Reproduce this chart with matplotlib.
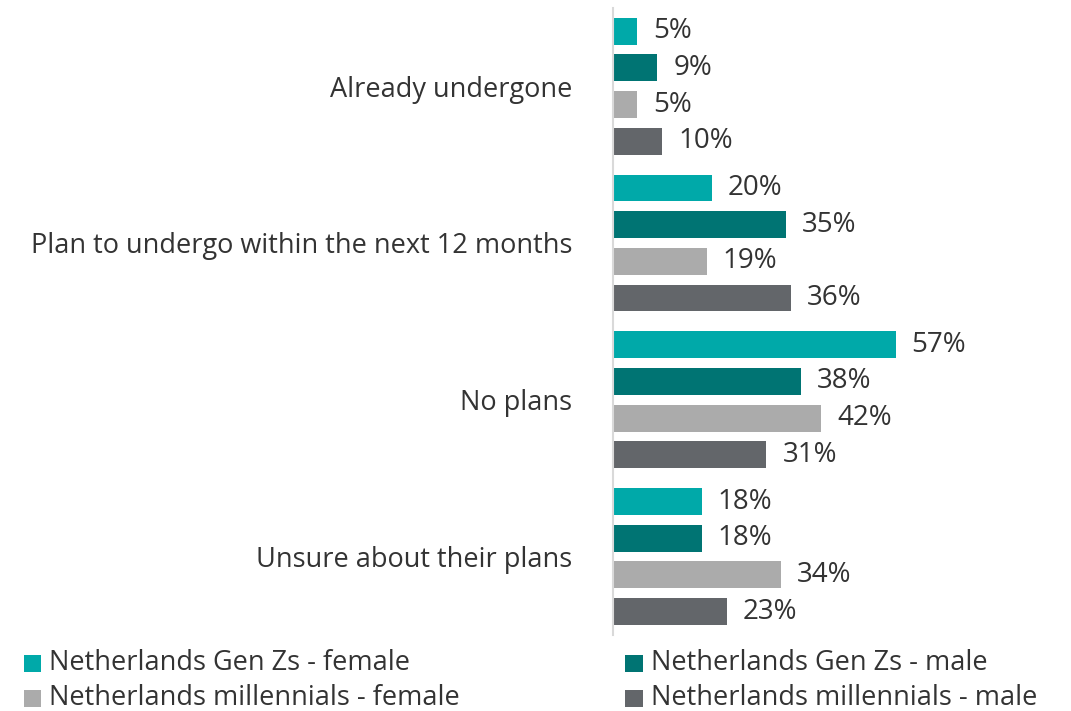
import matplotlib
matplotlib.use("Agg")
import matplotlib.pyplot as plt
from matplotlib.patches import Rectangle
import numpy as np

categories = [
    "Already undergone",
    "Plan to undergo within the next 12 months",
    "No plans",
    "Unsure about their plans",
]
series_names = [
    "Netherlands Gen Zs - female",
    "Netherlands Gen Zs - male",
    "Netherlands millennials - female",
    "Netherlands millennials - male",
]
genz_female = [5, 20, 57, 18]
genz_male = [9, 35, 38, 18]
mill_female = [5, 19, 42, 34]
mill_male = [10, 36, 31, 23]

colors = ["#00A9A9", "#007473", "#ABABAB", "#63666A"]
text_color = "#333333"

plt.rcParams["font.family"] = ["Open Sans", "DejaVu Sans"]

fig = plt.figure(figsize=(10.71, 7.11), dpi=100)
ax = fig.add_axes([0.572, 0.107, 0.38, 0.882])

series = [genz_female, genz_male, mill_female, mill_male]
pitch = 0.234
height = 0.171
y = np.arange(len(categories))
for i, (vals, col) in enumerate(zip(series, colors)):
    pos = y + (i - 1.5) * pitch
    ax.barh(pos, vals, height=height, color=col, edgecolor="none")
    for p, v in zip(pos, vals):
        ax.text(v + 3.2, p, f"{v}%", va="center", ha="left",
                fontsize=20, color=text_color)

ax.set_ylim(3.5, -0.5)
ax.set_xlim(0, 82)
ax.set_yticks(y)
ax.set_yticklabels(categories, fontsize=19.5, color=text_color)
ax.tick_params(axis="y", length=0, pad=29)
ax.set_xticks([])
for side in ["top", "right", "bottom"]:
    ax.spines[side].set_visible(False)
ax.spines["left"].set_color("#D9D9D9")
ax.spines["left"].set_linewidth(1.5)

# legend laid out in two columns below the plot
leg_x = [0.022, 0.584]
leg_y = [0.055, 0.006]
for i, (name, col) in enumerate(zip(series_names, colors)):
    lx = leg_x[i % 2]
    ly = leg_y[i // 2]
    fig.add_artist(Rectangle((lx, ly), 0.0165, 0.024, transform=fig.transFigure,
                             color=col, linewidth=0))
    fig.text(lx + 0.024, ly + 0.012, name, va="center", ha="left",
             fontsize=19.5, color=text_color)

fig.savefig("out.png", dpi=100)
